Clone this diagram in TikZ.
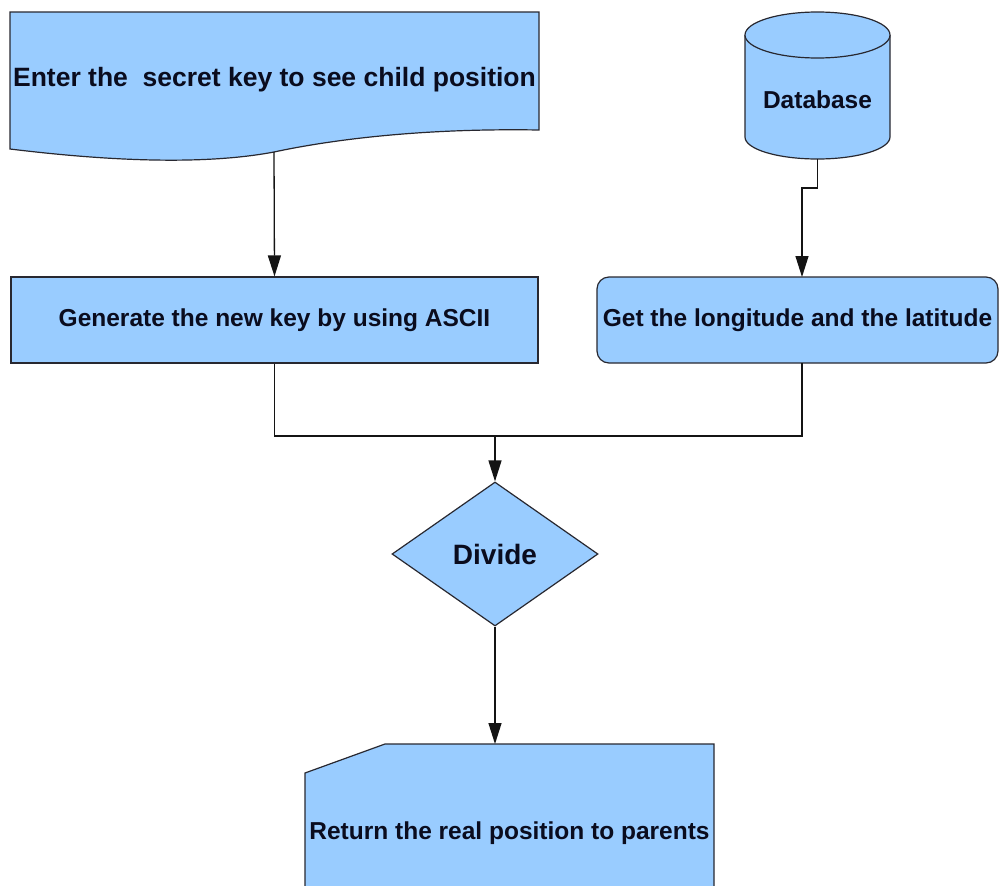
\documentclass[tikz,border=0pt]{standalone}
\usepackage{fontspec}
\setmainfont{Liberation Sans}
\usetikzlibrary{arrows.meta,shapes.geometric}
\definecolor{boxblue}{RGB}{153,204,255}
\definecolor{edge}{RGB}{40,40,48}
\definecolor{wire}{RGB}{20,20,20}
\definecolor{ink}{RGB}{10,12,30}
\tikzset{
  shapefill/.style={draw=edge, fill=boxblue, line width=1.2pt},
  label/.style={text=ink, font=\bfseries\fontsize{24.5}{28}\selectfont, inner sep=0pt},
  box/.style={shapefill, label},
  wireline/.style={draw=wire, line width=1.3pt},
  flow/.style={wireline, -{Triangle[width=13pt,length=21pt]}}
}
\begin{document}
\begin{tikzpicture}[x=1pt,y=-1pt]
\useasboundingbox (0,0) rectangle (999,886);
\fill[white] (0,0) rectangle (999,886);

% input document with wavy lower edge
\draw[shapefill] (10,12) -- (539,12) -- (539,130)
  .. controls (420,128) and (330,140) .. (274,152)
  .. controls (200,166) and (100,160) .. (10,149) -- cycle;
\node[label, font=\bfseries\fontsize{26.5}{30}\selectfont] (enter) at (274.5,80) {Enter the\ \ secret key to see child position};
\coordinate (enterb) at (274,152);

% database cylinder
\path[fill=boxblue] (745,35) -- (745,137) arc[start angle=180, end angle=0, x radius=72.5, y radius=22] -- (890,35) -- cycle;
\draw[draw=edge, line width=1.2pt] (745,35) -- (745,137) arc[start angle=180, end angle=0, x radius=72.5, y radius=22] -- (890,35);
\draw[shapefill] (817.5,35) ellipse [x radius=72.5, y radius=23];
\node[label] (db) at (817.5,100) {Database};
\coordinate (dbb) at (817.5,159);
\coordinate (dbk) at (802,188);

% process boxes
\node[box, minimum width=527pt, minimum height=86pt] (gen) at (274.5,320) {Generate the new key by using ASCII};
\node[box, rounded corners=12pt, minimum width=401pt, minimum height=86pt] (geo) at (797.5,320) {Get the longitude and the latitude};
\coordinate (geot) at (802,277);
\coordinate (geob) at (802,363);

% decision
\node[box, diamond, aspect=1.43, minimum width=206pt, minimum height=144pt, font=\bfseries\fontsize{28}{32}\selectfont] (div) at (495,554) {Divide};
\coordinate (join) at (495,436);

% output card with clipped corner
\draw[shapefill] (305,773) -- (385,744) -- (714,744) -- (714,892) -- (305,892) -- cycle;
\node[label] (ret) at (509.5,833) {Return the real position to parents};
\coordinate (rett) at (495,744);

% connectors
\draw[flow] (enterb) -- (gen.north);
\draw[flow] (dbb) |- (dbk) -- (geot);
\draw[wireline] (gen.south) |- (join);
\draw[wireline] (geob) |- (join);
\draw[flow] (join) -- (div.north);
\draw[flow] (div.south) -- (rett);
\end{tikzpicture}
\end{document}
